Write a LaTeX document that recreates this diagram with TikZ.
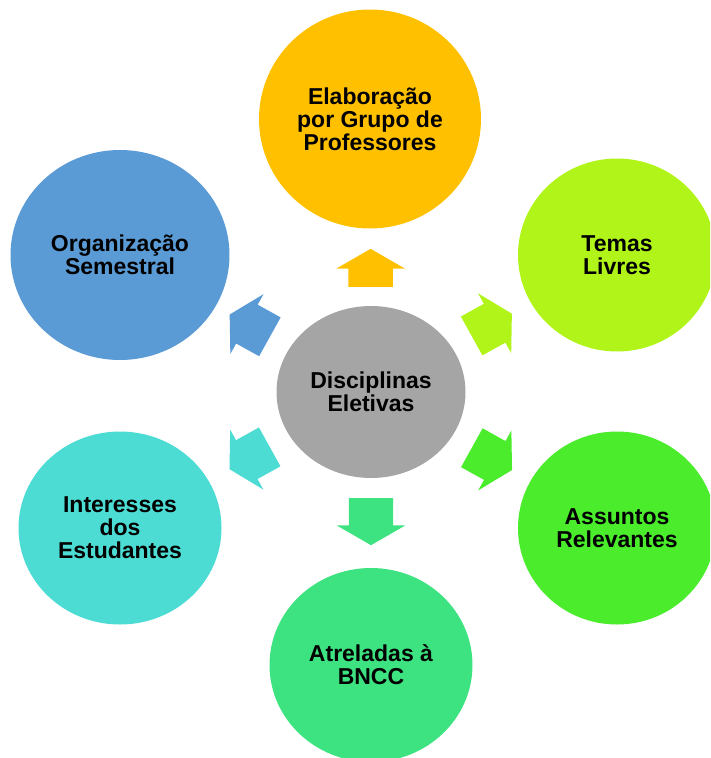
\documentclass[tikz,border=0pt]{standalone}
\usepackage{fontspec}
\setmainfont{Liberation Sans}
\usepackage{tikz}
\usetikzlibrary{shapes.geometric, shapes.arrows, calc}
\definecolor{hubgray}{HTML}{A5A5A5}
\definecolor{elabgold}{HTML}{FFC000}
\definecolor{orgblue}{HTML}{5B9BD5}
\definecolor{temaslime}{HTML}{B1F419}
\definecolor{assgreen}{HTML}{4AEC2C}
\definecolor{bnccgreen}{HTML}{3DE380}
\definecolor{intcyan}{HTML}{4CDCD4}
\tikzstyle{petal} = [ellipse, draw=none, inner sep=0pt, align=center, text=black, font=\bfseries\fontsize{23}{23}\selectfont]
\tikzstyle{spoke} = [single arrow, draw=none, minimum width=68pt, single arrow head extend=12pt, single arrow tip angle=120, inner xsep=0pt, inner ysep=22pt]

\begin{document}
\begin{tikzpicture}[x=1pt, y=-1pt]
\clip (0,0) rectangle (710,758);
\node (hub) [petal, fill=hubgray, minimum width=189pt, minimum height=172pt] at (371,392) {Disciplinas\\Eletivas};
\node (elab) [petal, fill=elabgold, minimum width=222pt, minimum height=219pt] at (370,119) {Elaboração\\por Grupo de\\Professores};
\node (org) [petal, fill=orgblue, minimum width=219pt, minimum height=210pt] at (120,255) {Organização\\Semestral};
\node (temas) [petal, fill=temaslime, minimum width=198pt, minimum height=193pt] at (617,255) {Temas\\Livres};
\node (assuntos) [petal, fill=assgreen, minimum width=198pt, minimum height=193pt] at (617,528) {Assuntos\\Relevantes};
\node (bncc) [petal, fill=bnccgreen, minimum width=203pt, minimum height=194pt] at (371,665) {Atreladas à\\BNCC};
\node (interesses) [petal, fill=intcyan, minimum width=203pt, minimum height=193pt] at (120,528) {Interesses\\dos\\Estudantes};
% arrows from the hub
\node (arr1) [spoke, fill=elabgold, minimum height=38pt, rotate=90, anchor=tail] at ($(hub)!105pt!(elab)$) {};
\node (arr2) [spoke, fill=temaslime, minimum height=46pt, rotate=29, anchor=tail] at ($(hub)!115pt!(temas)$) {};
\node (arr3) [spoke, fill=assgreen, minimum height=46pt, rotate=-29, anchor=tail] at ($(hub)!115pt!(assuntos)$) {};
\node (arr4) [spoke, fill=bnccgreen, minimum height=47pt, rotate=-90, anchor=tail] at ($(hub)!106pt!(bncc)$) {};
\node (arr5) [spoke, fill=intcyan, minimum height=46pt, rotate=-151, anchor=tail] at ($(hub)!115pt!(interesses)$) {};
\node (arr6) [spoke, fill=orgblue, minimum height=46pt, rotate=151, anchor=tail] at ($(hub)!115pt!(org)$) {};
\end{tikzpicture}
\end{document}
